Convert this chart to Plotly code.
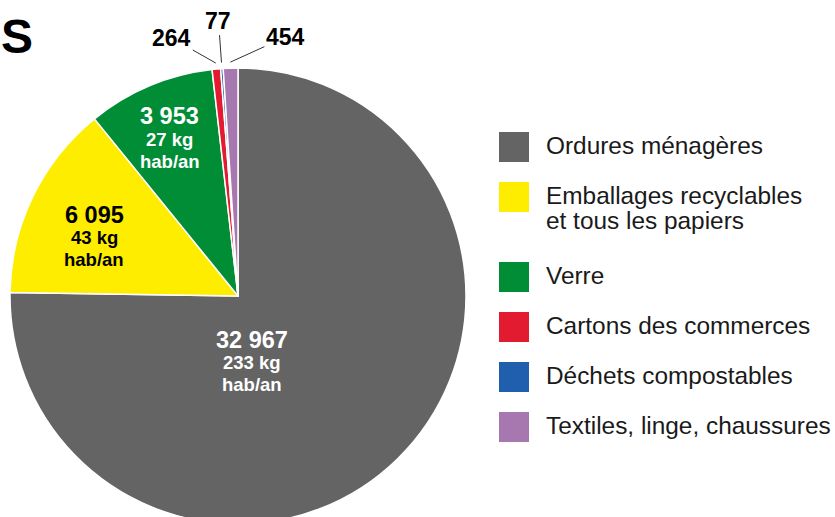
import math
import plotly.graph_objects as go

# ---------------- data ----------------
categories = [
    "Ordures ménagères",
    "Emballages recyclables<br>et tous les papiers",
    "Verre",
    "Cartons des commerces",
    "Déchets compostables",
    "Textiles, linge, chaussures",
]
tonnages = [32967, 6095, 3953, 264, 77, 454]
tonnage_labels = ["32 967", "6 095", "3 953", "264", "77", "454"]
kg_par_hab = [233, 43, 27, None, None, None]
colors = ["#646464", "#FFED00", "#008D36", "#E31B31", "#1F5FAD", "#A777B0"]
label_colors = ["white", "black", "white", "black", "black", "black"]

# ---------------- layout constants (pixels) ----------------
W, H = 835, 600
CX, CY, R = 238, 296, 228
FONT = "Liberation Sans, Arial, sans-serif"

fig = go.Figure()

fig.add_trace(go.Pie(
    values=tonnages,
    labels=[c.replace("<br>", " ") for c in categories],
    marker=dict(colors=colors, line=dict(color="white", width=1.5)),
    sort=False, direction="clockwise", rotation=0,
    textinfo="none", hoverinfo="label+value", showlegend=False,
    domain=dict(x=[(CX - R) / W, (CX + R) / W],
                y=[1 - (CY + R) / H, 1 - (CY - R) / H]),
))

total = sum(tonnages)
cum = 0
mid_angles = []
for v in tonnages:
    mid_angles.append(360 * (cum + v / 2) / total)
    cum += v

annotations = []

# inside labels (placement: angle deg clockwise from top, fraction of radius)
label_polar = [(168, 0.30), (292, 0.68), (336.5, 0.75)]
for k, (ang, frac) in enumerate(label_polar):
    a = math.radians(ang)
    x = CX + frac * R * math.sin(a)
    y = CY - frac * R * math.cos(a)
    lines = [(tonnage_labels[k], 23.5, -23), (f"{kg_par_hab[k]} kg", 18.5, 0), ("hab/an", 18.5, 22)]
    for txt, size, dy in lines:
        annotations.append(dict(
            x=x, y=y + dy, xref="x", yref="y", text=f"<b>{txt}</b>", showarrow=False,
            xanchor="center", yanchor="middle",
            font=dict(family=FONT, size=size, color=label_colors[k]),
        ))

# outside labels with leader lines
offsets = {3: (-44, -25), 4: (-3, -42), 5: (55, -25)}
for k, (ax, ay) in offsets.items():
    a = math.radians(mid_angles[k])
    tx = CX + (R + 6) * math.sin(a)
    ty = CY - (R + 6) * math.cos(a)
    annotations.append(dict(
        x=tx, y=ty, xref="x", yref="y", ax=ax, ay=ay,
        text=f"<b>{tonnage_labels[k]}</b>", showarrow=True, arrowhead=0,
        arrowwidth=1, arrowcolor="#333333", standoff=0,
        font=dict(family=FONT, size=23, color="black"),
    ))

# legend built from the category list
leg_x, leg_y0, step, extra = 514, 147, 50, 30
leg_y = []
extra_lines = 0
for k, c in enumerate(categories):
    leg_y.append(leg_y0 + step * k + extra * extra_lines)
    extra_lines += c.count("<br>")

fig.add_trace(go.Scatter(
    x=[leg_x] * len(categories), y=leg_y, mode="markers",
    marker=dict(symbol="square", size=30, color=colors, line=dict(width=0)),
    showlegend=False, hoverinfo="skip",
))
for k, c in enumerate(categories):
    for j, line in enumerate(c.split("<br>")):
        annotations.append(dict(
            x=545, y=leg_y[k] - 2 + 25 * j, xref="x", yref="y", text=line,
            showarrow=False, xanchor="left", yanchor="middle", borderpad=0,
            font=dict(family=FONT, size=24.4, color="#1a1a1a"),
        ))

# cropped title fragment
annotations.append(dict(
    x=0, y=36, xref="x", yref="y", text="<b>S</b>", showarrow=False,
    xanchor="left", yanchor="middle", borderpad=0,
    font=dict(family="Liberation Sans Narrow, Liberation Sans, Arial, sans-serif",
              size=48, color="black"),
))

fig.update_layout(
    width=W, height=H, margin=dict(l=0, r=0, t=0, b=0),
    paper_bgcolor="white", plot_bgcolor="white",
    xaxis=dict(range=[0, W], visible=False, fixedrange=True),
    yaxis=dict(range=[H, 0], visible=False, fixedrange=True),
    annotations=annotations,
)

fig.write_html(
    "out.html",
    config={"displayModeBar": False},
    post_script="document.body.style.margin='0';document.body.style.overflow='hidden';",
)
